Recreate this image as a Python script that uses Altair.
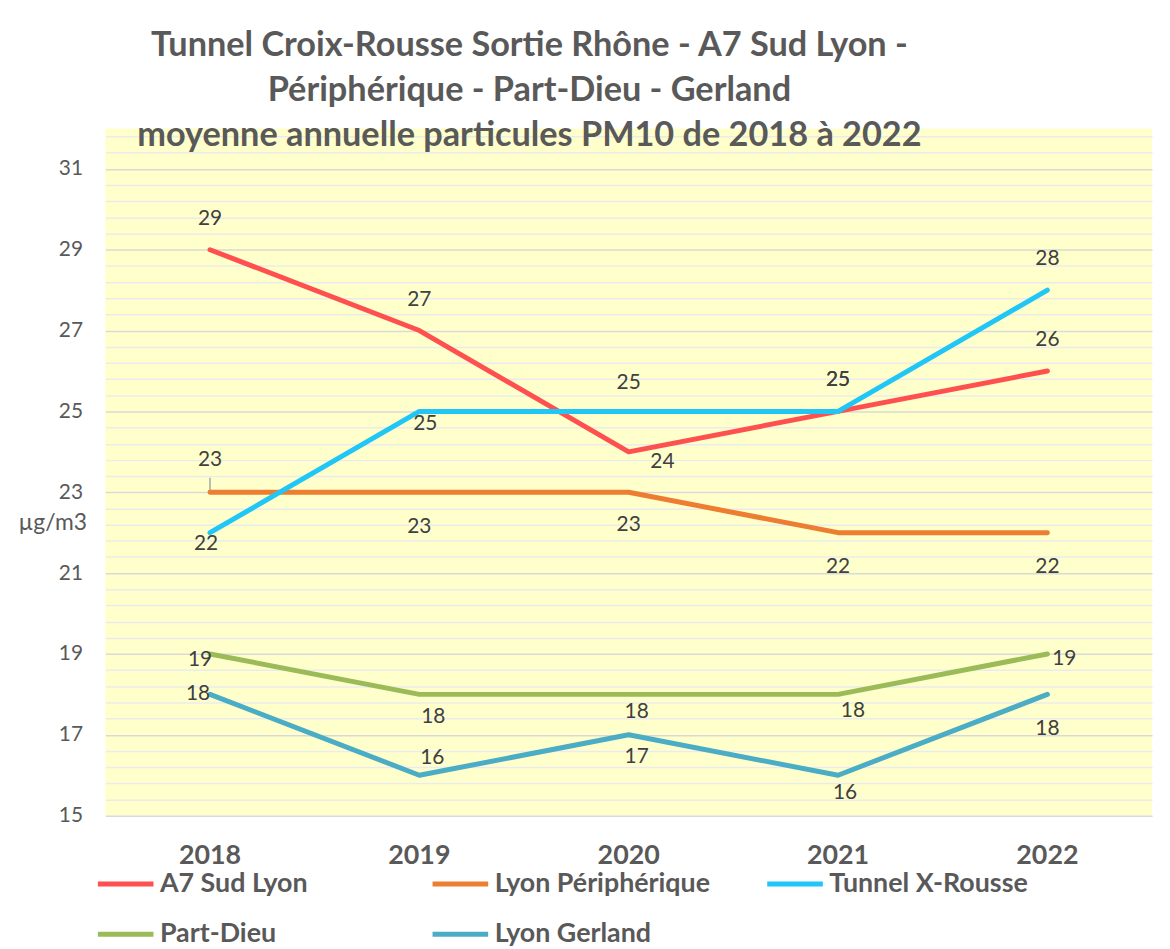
import altair as alt
import pandas as pd

years = ["2018", "2019", "2020", "2021", "2022"]
series = ["A7 Sud Lyon", "Lyon Périphérique", "Tunnel X-Rousse", "Part-Dieu", "Lyon Gerland"]
a7_sud_lyon = [29, 27, 24, 25, 26]
lyon_peripherique = [23, 23, 23, 22, 22]
tunnel_x_rousse = [22, 25, 25, 25, 28]
part_dieu = [19, 18, 18, 18, 19]
lyon_gerland = [18, 16, 17, 16, 18]
colors = ["#FF5050", "#ED7D31", "#1FC6F6", "#9BBB59", "#4BACC6"]

# data-label placement (pixel offsets from the point), per series and year
label_dx = {
    "A7 Sud Lyon": [0, 0, 34, 0, 0],
    "Lyon Périphérique": [0, 0, 0, 0, 0],
    "Tunnel X-Rousse": [-4, 6, 0, 0, 0],
    "Part-Dieu": [-10, 14, 8, 15, 17],
    "Lyon Gerland": [-12, 13, 8, 7, 0],
}
label_dy = {
    "A7 Sud Lyon": [-31, -31, 10, -32, -31],
    "Lyon Périphérique": [-32, 35, 33, 35, 35],
    "Tunnel X-Rousse": [11, 13, -29, -32, -31],
    "Part-Dieu": [6, 23, 18, 17, 5],
    "Lyon Gerland": [0, -17, 22, 18, 35],
}
# leader line shown for the moved label (series, year, length in y units)
leaders = [("Lyon Périphérique", "2018", 0.36)]

values = [a7_sud_lyon, lyon_peripherique, tunnel_x_rousse, part_dieu, lyon_gerland]
rows = []
for s, vals in zip(series, values):
    for i, (y, v) in enumerate(zip(years, vals)):
        rows.append({"series": s, "year": y, "value": v,
                     "dx": label_dx[s][i], "dy": label_dy[s][i]})
df = pd.DataFrame(rows)

lead_rows = []
for s, yr, ln in leaders:
    v = float(df[(df.series == s) & (df.year == yr)]["value"].iloc[0])
    lead_rows.append({"year": yr, "y1": v, "y2": v + ln})
lead_df = pd.DataFrame(lead_rows)

major_ticks = [15, 17, 19, 21, 23, 25, 27, 29, 31]
minor_ticks = [round(15 + 0.4 * k, 1) for k in range(0, 43)]
minor_ticks = [t for t in minor_ticks if t not in major_ticks]

FONT = "Lato"
TXT = "#595959"

yscale = alt.Scale(domain=[15, 32], nice=False, zero=False)
xenc = alt.X("year:O", sort=years,
             axis=alt.Axis(labelAngle=0, labelFont=FONT, labelFontWeight="bold",
                           labelFontSize=27, labelColor=TXT, ticks=False, domain=False,
                           grid=False, title=None, labelPadding=27))

minor = alt.Chart(df).mark_point(opacity=0).encode(
    x=xenc,
    y=alt.Y("value:Q", scale=yscale,
            axis=alt.Axis(values=minor_ticks, grid=True, gridColor="#EBEBEB", gridWidth=1.5,
                          labels=False, ticks=False, domain=False, title=None, orient="right")),
)

lines = alt.Chart(df).mark_line(strokeWidth=5, strokeCap="round", strokeJoin="round").encode(
    x=xenc,
    y=alt.Y("value:Q", scale=yscale,
            axis=alt.Axis(values=major_ticks, grid=True, gridColor="#D9D9D9", gridWidth=1.5,
                          labels=True, labelFont=FONT, labelFontSize=21, labelColor=TXT,
                          labelPadding=23, ticks=False, domain=False, orient="left",
                          title="µg/m3", titleAngle=0, titleFont=FONT, titleFontSize=23,
                          titleFontWeight="normal", titleColor=TXT, titleAlign="right",
                          titleBaseline="middle", titleX=-19, titleY=397)),
    color=alt.Color("series:N", sort=series,
                    scale=alt.Scale(domain=series, range=colors),
                    legend=alt.Legend(orient="none", legendX=-10, legendY=730,
                                      direction="horizontal", columns=3, gridAlign="all",
                                      symbolType="stroke", symbolSize=3136,
                                      symbolStrokeWidth=5, labelFont=FONT,
                                      labelFontWeight="bold", labelFontSize=27,
                                      labelColor=TXT, labelOffset=4, columnPadding=46,
                                      rowPadding=7, title=None, labelLimit=0)),
)

leader_rule = alt.Chart(lead_df).mark_rule(color="#A6A6A6", strokeWidth=1.5).encode(
    x=xenc,
    y=alt.Y("y1:Q", scale=yscale, axis=None),
    y2="y2:Q",
)

label_layers = []
for (dx, dy) in sorted(set(zip(df["dx"], df["dy"]))):
    label_layers.append(
        alt.Chart(df).transform_filter(
            f"datum.dx == {dx} && datum.dy == {dy}"
        ).mark_text(font=FONT, fontSize=21, color="#404040", baseline="middle",
                    dx=int(dx), dy=int(dy)).encode(
            x=xenc,
            y=alt.Y("value:Q", scale=yscale, axis=None),
            text="value:Q",
        )
    )

chart = alt.layer(minor, leader_rule, lines, *label_layers).resolve_axis(y="independent").properties(
    width=1054, height=692,
    autosize=alt.AutoSizeParams(type="none"),
    padding={"left": 98, "top": 118, "right": 10, "bottom": 131},
    background="white",
    title=alt.TitleParams(
        text=["Tunnel Croix-Rousse Sortie Rhône - A7 Sud Lyon -",
              "Périphérique - Part-Dieu - Gerland",
              "moyenne annuelle particules PM10 de 2018 à 2022"],
        font=FONT, fontSize=34.5, fontWeight="bold", color=TXT, lineHeight=45,
        anchor="middle", frame="group", dx=-100, offset=-25),
).configure_view(fill="#FFFFCC", stroke=None)

chart.save("out.html", embed_options={"renderer": "svg", "actions": False})
